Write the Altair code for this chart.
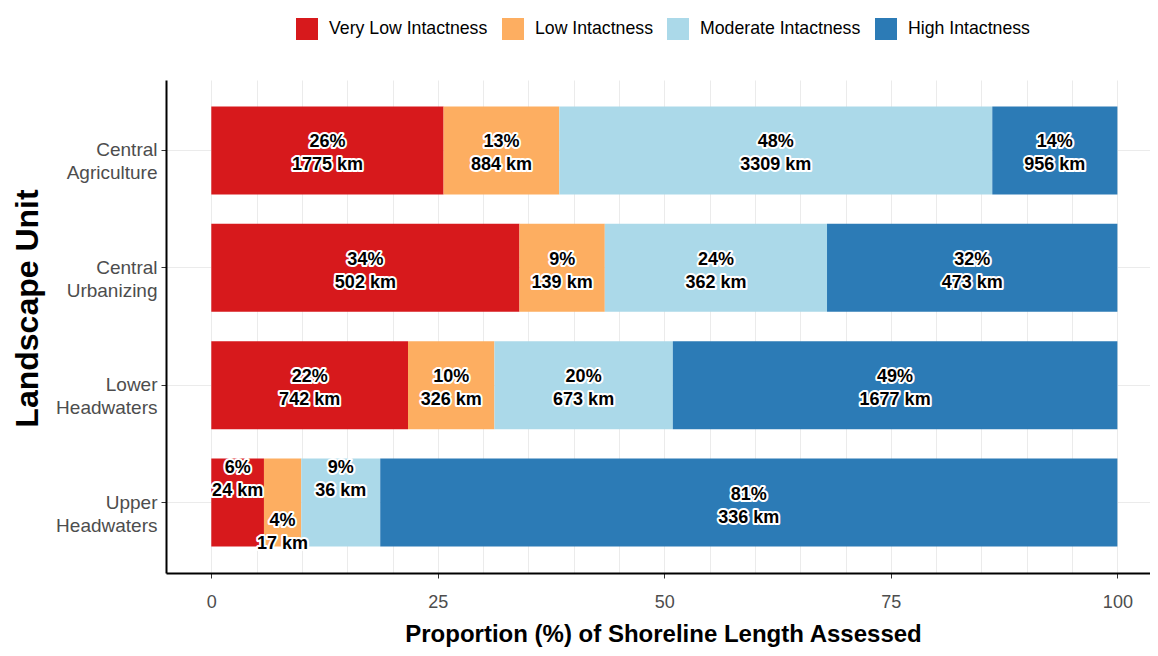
import altair as alt
import pandas as pd

units = ["Central Agriculture", "Central Urbanizing", "Lower Headwaters", "Upper Headwaters"]
classes = ["Very Low Intactness", "Low Intactness", "Moderate Intactness", "High Intactness"]
colors = ["#d7191c", "#fdae61", "#abd9e9", "#2c7bb6"]

very_low_km = [1775, 502, 742, 24]
low_km = [884, 139, 326, 17]
moderate_km = [3309, 362, 673, 36]
high_km = [956, 473, 1677, 336]

very_low_pct = [26, 34, 22, 6]
low_pct = [13, 9, 10, 4]
moderate_pct = [48, 24, 20, 9]
high_pct = [14, 32, 49, 81]

# label placement tweaks for the narrow segments (-1 above, +1 below)
NUDGE = {
    ("Upper Headwaters", "Very Low Intactness"): -1,
    ("Upper Headwaters", "Low Intactness"): 1,
    ("Upper Headwaters", "Moderate Intactness"): -1,
}

rows = []
kms = [very_low_km, low_km, moderate_km, high_km]
pcts = [very_low_pct, low_pct, moderate_pct, high_pct]
for ci, cls in enumerate(classes):
    for ui, unit in enumerate(units):
        rows.append({
            "unit": unit,
            "cls": cls,
            "order": ci,
            "km": kms[ci][ui],
            "label": f"{pcts[ci][ui]}%\n{kms[ci][ui]} km",
            "nudge": NUDGE.get((unit, cls), 0),
        })
df = pd.DataFrame(rows)

base = (
    alt.Chart(df)
    .transform_joinaggregate(total="sum(km)", groupby=["unit"])
    .transform_calculate(prop="datum.km / datum.total * 100")
    .transform_stack(stack="prop", groupby=["unit"], sort=[alt.SortField("order")], as_=["x0", "x1"])
    .transform_calculate(xm="(datum.x0 + datum.x1) / 2")
)

yenc = alt.Y(
    "unit:N",
    sort=units,
    scale=alt.Scale(paddingInner=0.25, paddingOuter=0.225),
    axis=alt.Axis(
        title="Landscape Unit",
        labelExpr="split(datum.label, ' ')",
        labelFontSize=19,
        labelColor="#4d4d4d",
        labelLineHeight=23,
        labelPadding=4,
        tickSize=5,
        tickColor="#333333",
        domainColor="black",
        domainWidth=2,
        grid=True,
        gridColor="#ebebeb",
        gridWidth=1,
        titleFontSize=32,
        titleFontWeight="bold",
        titleColor="black",
        titleAngle=270,
        titleX=-139,
        titleY=228,
        titleAlign="center",
        titleBaseline="middle",
    ),
)

xscale = alt.Scale(domain=[-5, 103.6], nice=False, zero=False)

bars = base.mark_bar().encode(
    y=yenc,
    x=alt.X(
        "x0:Q",
        scale=xscale,
        axis=alt.Axis(
            title="Proportion (%) of Shoreline Length Assessed",
            values=list(range(0, 101, 5)),
            labelExpr="datum.value % 25 === 0 ? datum.label : ''",
            tickOpacity={"condition": {"test": "datum.value % 25 === 0", "value": 1}, "value": 0},
            tickSize=5,
            tickColor="#333333",
            labelFontSize=18,
            labelColor="#4d4d4d",
            labelPadding=15,
            labelFlush=False,
            domainColor="black",
            domainWidth=2,
            grid=True,
            gridColor="#ebebeb",
            gridWidth=1,
            titleFontSize=24,
            titleFontWeight="bold",
            titleColor="black",
            titleX=497,
            titleY=61,
            titleAlign="center",
            titleBaseline="middle",
        ),
    ),
    x2="x1:Q",
    color=alt.Color(
        "cls:N",
        scale=alt.Scale(domain=classes, range=colors),
        legend=alt.Legend(
            title=None,
            orient="none",
            legendX=130,
            legendY=-62,
            direction="horizontal",
            symbolType="square",
            symbolSize=484,
            symbolStrokeWidth=0,
            symbolOpacity=1,
            labelFontSize=17.7,
            labelColor="black",
            labelLimit=0,
            labelOffset=11,
            columnPadding=14,
            padding=0,
        ),
    ),
)

texts = []
for nd, dy in [(0, -8), (-1, -35), (1, 18)]:
    t = base.transform_filter(f"datum.nudge == {nd}")
    enc = dict(x=alt.X("xm:Q", scale=xscale), y=alt.Y("unit:N", sort=units), text="label:N")
    outline = t.mark_text(
        fontSize=18, fontWeight="bold", lineBreak="\n", lineHeight=23,
        stroke="white", strokeWidth=4, strokeJoin="round", fill="white", dy=dy,
        baseline="middle", align="center",
    ).encode(**enc)
    fill = t.mark_text(
        fontSize=18, fontWeight="bold", lineBreak="\n", lineHeight=23,
        fill="black", dy=dy, baseline="middle", align="center",
    ).encode(**enc)
    texts += [outline, fill]

chart = (
    alt.layer(bars, *texts)
    .properties(
        width=984,
        height=493,
        autosize=alt.AutoSizeParams(type="none"),
        padding={"left": 158, "top": 72, "right": 0, "bottom": 75},
    )
    .configure(font="Liberation Sans", background="white")
    .configure_view(stroke=None)
)

chart.save("out.html", embed_options={"renderer": "svg", "actions": False})
